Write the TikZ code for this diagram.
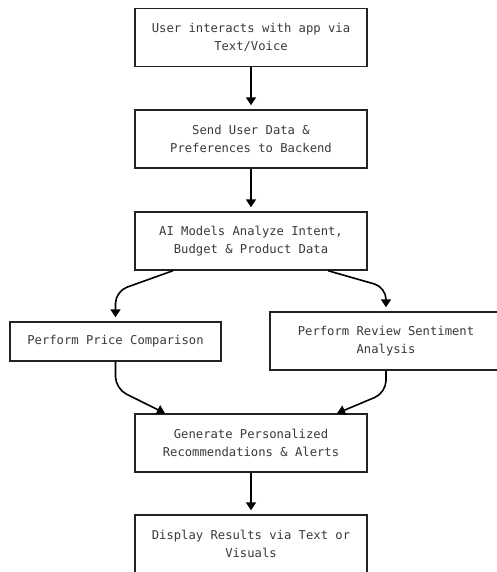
\documentclass[tikz,border=0pt]{standalone}
\usepackage{fontspec}
\setmonofont{DejaVu Sans Mono}
\usetikzlibrary{arrows.meta}
\definecolor{boxline}{HTML}{222222}
\definecolor{boxtext}{HTML}{3A3A3A}
\tikzset{
    stepbox/.style={draw=boxline,line width=1.4pt,fill=white,text=boxtext,
        minimum width=232pt,minimum height=58pt,align=center,
        font=\ttfamily\fontsize{12.2}{18}\selectfont},
    flow/.style={-{Triangle[length=8pt,width=10pt]},line width=1.6pt,
        shorten >=4pt,rounded corners=12pt}
}

\begin{document}
\begin{tikzpicture}[x=1pt,y=-1pt]
        \useasboundingbox (0,0) rectangle (496,572);
        \node[stepbox] (user) at (251,37.5) {User interacts with app via\\Text/Voice};
        \node[stepbox] (send) at (251,139) {Send User Data \&\\Preferences to Backend};
        \node[stepbox] (ai) at (251,241) {AI Models Analyze Intent,\\Budget \& Product Data};
        \node[stepbox,minimum width=211pt,minimum height=39pt] (price) at (115.5,341.5) {Perform Price Comparison};
        \node[stepbox] (review) at (386,341) {Perform Review Sentiment\\Analysis};
        \node[stepbox] (gen) at (251,443) {Generate Personalized\\Recommendations \& Alerts};
        \node[stepbox] (disp) at (251,544) {Display Results via Text or\\Visuals};

        \draw[flow] (user) -- (send);
        \draw[flow] (send) -- (ai);
        \draw[flow] ([xshift=-78pt]ai.south) -- ([yshift=30pt]price.north) -- (price.north);
        \draw[flow] ([xshift=77pt]ai.south) -- ([yshift=24pt]review.north) -- (review.north);
        \draw[flow,shorten >=0pt] (price.south) -- ([yshift=-27pt]price.south) -- ([xshift=-86pt]gen.north);
        \draw[flow,shorten >=0pt] (review.south) -- ([yshift=-22pt]review.south) -- ([xshift=86pt]gen.north);
        \draw[flow] (gen) -- (disp);
    \end{tikzpicture}
\end{document}
